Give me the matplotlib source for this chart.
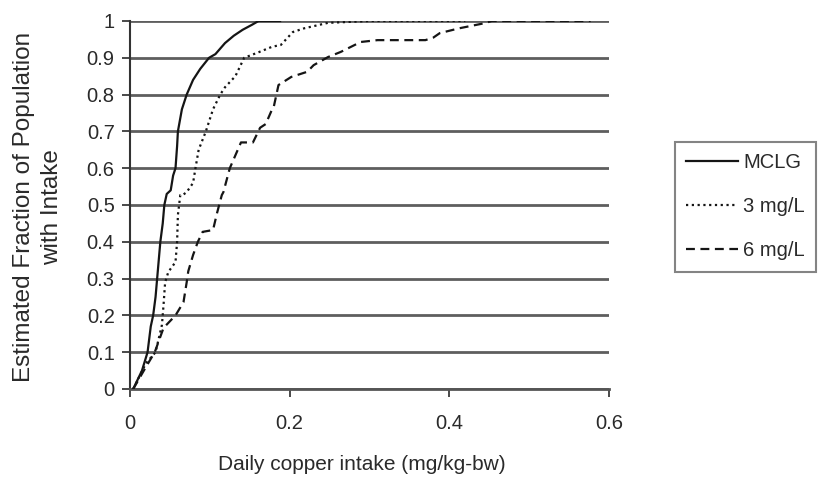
import matplotlib
matplotlib.use("Agg")
import matplotlib.pyplot as plt

plt.rcParams['font.family'] = ['Liberation Sans', 'DejaVu Sans']

# MCLG (solid)
mclg_x = [0.004, 0.015, 0.022, 0.026, 0.029, 0.032, 0.034, 0.036, 0.038, 0.041, 0.043, 0.046,
          0.051, 0.054, 0.057, 0.059, 0.060, 0.065, 0.071, 0.079, 0.088, 0.099, 0.107, 0.119,
          0.130, 0.141, 0.153, 0.161, 0.188]
mclg_y = [0.0, 0.05, 0.10, 0.17, 0.20, 0.25, 0.30, 0.35, 0.40, 0.45, 0.50, 0.53,
          0.54, 0.58, 0.60, 0.66, 0.70, 0.76, 0.80, 0.84, 0.87, 0.90, 0.91, 0.94,
          0.96, 0.976, 0.99, 1.0, 1.0]

# 3 mg/L (dotted)
mg3_x = [0.004, 0.020, 0.032, 0.040, 0.042, 0.044, 0.048, 0.057, 0.059, 0.060, 0.063, 0.066,
         0.071, 0.079, 0.082, 0.086, 0.095, 0.104, 0.113, 0.119, 0.132, 0.143, 0.161, 0.178,
         0.189, 0.204, 0.218, 0.248, 0.300, 0.420]
mg3_y = [0.0, 0.07, 0.10, 0.174, 0.228, 0.29, 0.318, 0.345, 0.40, 0.473, 0.527, 0.527,
         0.535, 0.56, 0.60, 0.65, 0.70, 0.76, 0.80, 0.82, 0.85, 0.90, 0.915, 0.93,
         0.935, 0.97, 0.98, 0.995, 1.0, 1.0]

# 6 mg/L (dashed)
mg6_x = [0.004, 0.020, 0.031, 0.042, 0.057, 0.067, 0.071, 0.073, 0.079, 0.085, 0.091, 0.104,
         0.109, 0.115, 0.117, 0.125, 0.135, 0.139, 0.154, 0.163, 0.170, 0.178, 0.180, 0.186,
         0.202, 0.222, 0.230, 0.248, 0.264, 0.289, 0.310, 0.370, 0.380, 0.388, 0.412, 0.444,
         0.453, 0.500, 0.577]
mg6_y = [0.0, 0.06, 0.10, 0.166, 0.20, 0.236, 0.29, 0.32, 0.364, 0.40, 0.427, 0.432,
         0.478, 0.527, 0.535, 0.60, 0.65, 0.67, 0.67, 0.71, 0.72, 0.76, 0.766, 0.826,
         0.848, 0.862, 0.88, 0.902, 0.916, 0.943, 0.948, 0.948, 0.955, 0.967, 0.98, 0.994,
         1.0, 1.0, 1.0]

series_labels = ['MCLG', '3 mg/L', '6 mg/L']
x_ticks = [0, 0.2, 0.4, 0.6]
x_ticklabels = ['0', '0.2', '0.4', '0.6']
y_ticks = [0.0, 0.1, 0.2, 0.3, 0.4, 0.5, 0.6, 0.7, 0.8, 0.9, 1.0]
y_ticklabels = ['0', '0.1', '0.2', '0.3', '0.4', '0.5', '0.6', '0.7', '0.8', '0.9', '1']

W, H = 822, 487
fig = plt.figure(figsize=(W/100, H/100), dpi=100)
ax = fig.add_axes([130/W, (H-389)/H, (609-130)/W, (389-21)/H])

ax.set_xlim(0, 0.6)
ax.set_ylim(0, 1)
ax.set_yticks(y_ticks)
ax.set_yticklabels(y_ticklabels)
ax.set_xticks(x_ticks)
ax.set_xticklabels(x_ticklabels)

for v in y_ticks:
    ax.axhline(v, color='#5e5e5e', lw=2.0, zorder=1)

ax.plot(mclg_x, mclg_y, color='#151515', lw=1.6, ls='-', label=series_labels[0], zorder=3)
ax.plot(mg3_x, mg3_y, color='#151515', lw=1.6, ls=(0, (1, 1.6)), label=series_labels[1], zorder=3)
ax.plot(mg6_x, mg6_y, color='#151515', lw=1.6, ls=(0, (4, 2.5)), label=series_labels[2], zorder=3)

for s in ['top', 'right']:
    ax.spines[s].set_visible(False)
ax.spines['left'].set_color('#333333')
ax.spines['left'].set_linewidth(1.5)
ax.spines['bottom'].set_color('#555555')
ax.spines['bottom'].set_linewidth(2.0)
ax.tick_params(axis='both', labelsize=14.5, colors='#2a2a2a', direction='out', length=6, width=1.2)
ax.tick_params(axis='y', pad=5)
ax.tick_params(axis='x', pad=12)

fig.text(362/W, 1 - 465/H, 'Daily copper intake (mg/kg-bw)', fontsize=15, color='#2a2a2a',
         ha='center', va='center')
fig.text(38/W, 1 - 207/H, 'Estimated Fraction of Population\nwith Intake', fontsize=17.5,
         color='#2a2a2a', ha='center', va='center', rotation=90, linespacing=1.35,
         multialignment='center')

leg = fig.legend(loc='upper left', bbox_to_anchor=(675/W, (H-142)/H), fontsize=14.5,
                 frameon=True, fancybox=False, edgecolor='#666666', handlelength=2.6,
                 handletextpad=0.25, labelspacing=1.25, borderpad=0.55, borderaxespad=0)
leg.get_frame().set_linewidth(1.5)
for t in leg.get_texts():
    t.set_color('#2a2a2a')

fig.savefig('out.png', dpi=100)
